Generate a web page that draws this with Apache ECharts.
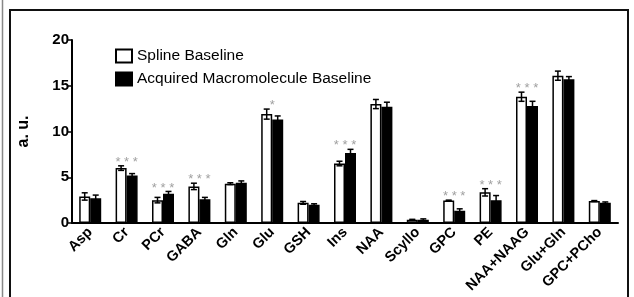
<!DOCTYPE html>
<html>
<head>
<meta charset="utf-8">
<script src="https://cdn.jsdelivr.net/npm/echarts@6/dist/echarts.min.js"></script>
<style>
html, body {margin:0; padding:0; background:#fff;}
#chart {width:634px; height:297px;}
</style>
</head>
<body>
<div id="chart"></div>
<script>
// Metabolites
const categories = ['Asp', 'Cr', 'PCr', 'GABA', 'Gln', 'Glu', 'GSH', 'Ins', 'NAA', 'Scyllo', 'GPC', 'PE', 'NAA+NAAG', 'Glu+Gln', 'GPC+PCho'];
// Spline baseline (white)
const splineVals = [2.9, 6.0, 2.5, 4.0, 4.3, 11.9, 2.2, 6.5, 13.0, 0.35, 2.45, 3.35, 13.8, 16.1, 2.4];
const splineErr  = [0.4, 0.25, 0.3, 0.35, 0.1, 0.55, 0.15, 0.25, 0.5, 0.05, 0.05, 0.4, 0.5, 0.5, 0.05];
// Acquired macromolecule baseline (black)
const mmVals = [2.7, 5.2, 3.2, 2.6, 4.4, 11.3, 2.0, 7.65, 12.7, 0.35, 1.35, 2.5, 12.8, 15.7, 2.2];
const mmErr  = [0.35, 0.2, 0.25, 0.2, 0.2, 0.4, 0.1, 0.4, 0.5, 0.1, 0.2, 0.5, 0.5, 0.3, 0.1];
// significance markers
const stars = ['', '***', '***', '***', '', '*', '', '***', '', '', '***', '***', '***', '', ''];

const BW = 11;

let starData = [];
stars.forEach((s, i) => {
    if (s) starData.push({value: [i, Math.max(splineVals[i] + splineErr[i], mmVals[i] + mmErr[i])], label: {formatter: s.split('').join(' ')}});
});

function errSeries(vals, errs, dx) {
    return {
        type: 'custom',
        silent: true,
        z: 5,
        data: vals.map((v, i) => [i, v, errs[i]]),
        renderItem: (params, api) => {
            let i = api.value(0), v = api.value(1), e = api.value(2);
            let top = api.coord([i, v + e]);
            let bot = api.coord([i, v - e]);
            let x = top[0] + dx;
            let st = {stroke: '#000', lineWidth: 1.5};
            return {type: 'group', children: [
                {type: 'line', shape: {x1: x, y1: top[1], x2: x, y2: bot[1]}, style: st},
                {type: 'line', shape: {x1: x - 3, y1: top[1], x2: x + 3, y2: top[1]}, style: st},
                {type: 'line', shape: {x1: x - 3, y1: bot[1], x2: x + 3, y2: bot[1]}, style: st}
            ]};
        }
    };
}

let chart = echarts.init(document.getElementById('chart'));
chart.setOption({
    backgroundColor: '#fff',
    animation: false,
    textStyle: {fontFamily: 'Liberation Sans, Arial, sans-serif'},
    graphic: [
        {type: 'line', shape: {x1: 2.5, y1: 0, x2: 2.5, y2: 297}, style: {stroke: '#888', lineWidth: 1.5}},
        {type: 'rect', shape: {x: 10, y: 10, width: 618, height: 300}, style: {fill: 'none', stroke: '#111', lineWidth: 2}}
    ],
    grid: {left: 72, right: 16, top: 40, bottom: 74},
    legend: {
        orient: 'vertical',
        left: 110, top: 43,
        icon: 'rect',
        itemWidth: 16, itemHeight: 13, itemGap: 7,
        textStyle: {fontSize: 15.5, color: '#000'},
        data: ['Spline Baseline', 'Acquired Macromolecule Baseline']
    },
    xAxis: {
        type: 'category',
        data: categories,
        axisLine: {lineStyle: {color: '#000', width: 2}},
        axisTick: {alignWithLabel: true, length: 4, lineStyle: {color: '#000', width: 1.5}},
        axisLabel: {rotate: 45, fontSize: 14.5, fontWeight: 'bold', color: '#000', margin: 7, interval: 0}
    },
    yAxis: {
        type: 'value',
        min: 0, max: 20, interval: 5,
        name: 'a. u.',
        nameLocation: 'middle',
        nameGap: 40,
        nameTextStyle: {fontSize: 16, fontWeight: 'bold', color: '#000'},
        splitLine: {show: false},
        axisLine: {show: true, lineStyle: {color: '#000', width: 2}},
        axisTick: {show: true, length: 4, lineStyle: {color: '#000', width: 1.5}},
        axisLabel: {fontSize: 15, fontWeight: 'bold', color: '#000', margin: 3}
    },
    series: [
        {
            name: 'Spline Baseline', type: 'bar', data: splineVals,
            barWidth: BW, barGap: '0%',
            itemStyle: {color: '#fff', borderColor: '#000', borderWidth: 1.5}
        },
        {
            name: 'Acquired Macromolecule Baseline', type: 'bar', data: mmVals,
            barWidth: BW,
            itemStyle: {color: '#000', borderColor: '#000', borderWidth: 1.5}
        },
        errSeries(splineVals, splineErr, -BW / 2),
        errSeries(mmVals, mmErr, BW / 2),
        {
            type: 'scatter', data: starData, symbolSize: 0, silent: true,
            label: {show: true, position: 'top', distance: -3, fontSize: 13, color: '#888'}
        }
    ]
});
</script>
</body>
</html>
